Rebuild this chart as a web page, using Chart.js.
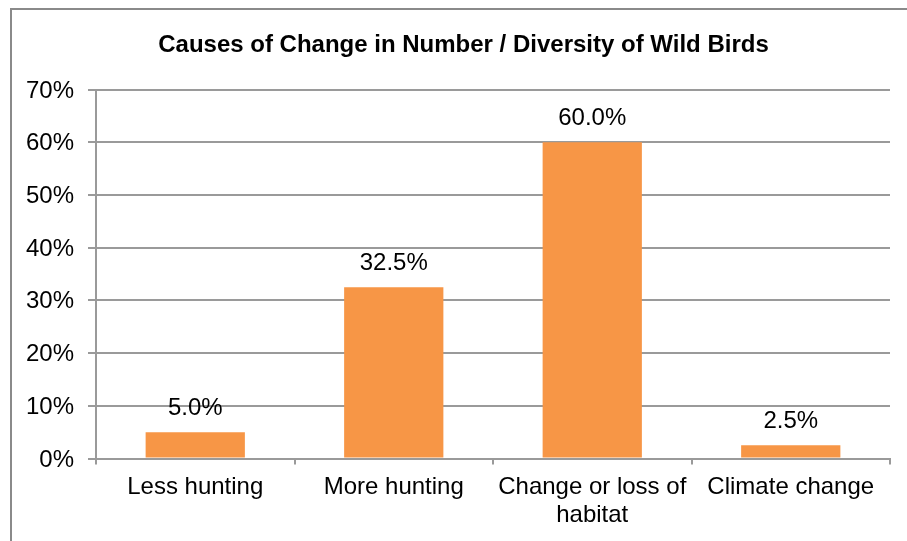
<!DOCTYPE html>
<html>
<head>
<meta charset="utf-8">
<script src="https://cdn.jsdelivr.net/npm/chart.js@4/dist/chart.umd.min.js"></script>
<style>
  body { margin: 0; background: #fff; }
  #wrap { width: 907px; height: 541px; }
</style>
</head>
<body>
<div id="wrap"><canvas id="birdChart" width="907" height="541"></canvas></div>
<script>
// chart data
const chartTitle = "Causes of Change in Number / Diversity of Wild Birds";
const causes = [["Less hunting"], ["More hunting"], ["Change or loss of", "habitat"], ["Climate change"]];
const shares = [5.0, 32.5, 60.0, 2.5]; // percent
const yTicks = [0, 10, 20, 30, 40, 50, 60, 70];

const barColor = "#F79646";
const lineColor = "#9a9a9a";
const fontFamily = "'Liberation Sans', Arial, sans-serif";

// white page, grey frame (runs off the right/bottom edge) and the title
const framePlugin = {
    id: "frame",
    beforeDraw(chart) {
        const ctx = chart.ctx;
        ctx.save();
        ctx.fillStyle = "#fff";
        ctx.fillRect(0, 0, chart.width, chart.height);
        ctx.strokeStyle = "#8a8a8a";
        ctx.lineWidth = 2;
        ctx.strokeRect(11, 9, 1000, 1000);
        // title sits a bit right of the plot centre, like the original
        ctx.font = "bold 24px " + fontFamily;
        ctx.fillStyle = "#000";
        ctx.textAlign = "center";
        ctx.textBaseline = "alphabetic";
        ctx.fillText(chartTitle, 463.5, 51.5);
        ctx.restore();
    }
};

// value labels above each bar
const barLabels = {
    id: "barLabels",
    afterDatasetsDraw(chart) {
        const ctx = chart.ctx;
        const meta = chart.getDatasetMeta(0);
        ctx.save();
        ctx.font = "24px " + fontFamily;
        ctx.fillStyle = "#000";
        ctx.textAlign = "center";
        ctx.textBaseline = "alphabetic";
        meta.data.forEach((bar, i) => {
            ctx.fillText(shares[i].toFixed(1) + "%", bar.x, bar.y - 17);
        });
        ctx.restore();
    }
};

const ctx = document.getElementById("birdChart").getContext("2d");
const birdChart = new Chart(ctx, {
    type: "bar",
    data: {
        labels: causes,
        datasets: [{
            data: shares,
            backgroundColor: barColor,
            borderWidth: 0,
            barPercentage: 0.5,
            categoryPercentage: 1.0
        }]
    },
    options: {
        responsive: false,
        animation: false,
        layout: { padding: { left: 0, right: 17, top: 89.5, bottom: 12.5 } },
        plugins: {
            legend: { display: false },
            tooltip: { enabled: false },
            title: { display: false }
        },
        scales: {
            x: {
                grid: { display: true, drawOnChartArea: false, drawTicks: true, tickLength: 6, color: lineColor, lineWidth: 2 },
                border: { display: true, color: lineColor, width: 2 },
                ticks: {
                    color: "#000",
                    font: { family: fontFamily, size: 24, lineHeight: 1.15 },
                    padding: 9,
                    maxRotation: 0,
                    autoSkip: false
                },
                afterFit(scale) { scale.height = 70; }
            },
            y: {
                min: 0,
                max: 70,
                afterBuildTicks(scale) { scale.ticks = yTicks.map(v => ({ value: v })); },
                grid: { color: lineColor, lineWidth: 2, tickLength: 8 },
                border: { display: true, color: lineColor, width: 2 },
                ticks: {
                    color: "#000",
                    font: { family: fontFamily, size: 24 },
                    padding: 14,
                    labelOffset: 1.5,
                    callback: v => v + "%"
                },
                afterFit(scale) { scale.width = 96; }
            }
        }
    },
    plugins: [framePlugin, barLabels]
});
</script>
</body>
</html>
